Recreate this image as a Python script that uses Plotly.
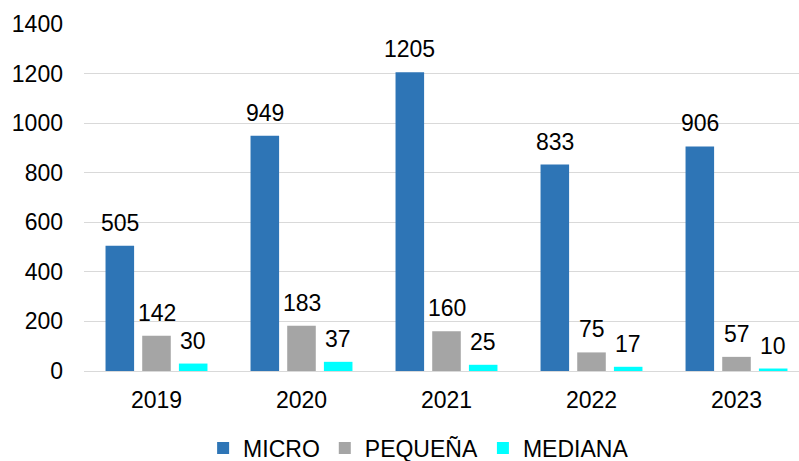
import plotly.graph_objects as go

years = ["2019", "2020", "2021", "2022", "2023"]
micro = [505, 949, 1205, 833, 906]
pequena = [142, 183, 160, 75, 57]
mediana = [30, 37, 25, 17, 10]

series = [
    ("MICRO", micro, "#2E75B6"),
    ("PEQUEÑA", pequena, "#A5A5A5"),
    ("MEDIANA", mediana, "#00FFFF"),
]

font_family = "Liberation Sans, Arial, sans-serif"
slot = 0.253          # distance between bars in a group (category units)
bar_w = 0.197         # bar width (category units)
offsets = [-slot, 0.0, slot]
fsize = 23

fig = go.Figure()
annotations = []
for (name, vals, color), off in zip(series, offsets):
    xs = [i + off for i in range(len(years))]
    fig.add_trace(go.Bar(
        x=xs, y=vals, name=name, width=bar_w,
        marker=dict(color=color, line=dict(width=0)),
    ))
    for x, v in zip(xs, vals):
        annotations.append(dict(
            x=x, y=v, xref="x", yref="y", text=str(v), showarrow=False,
            yanchor="middle", yshift=23,
            font=dict(family=font_family, size=fsize, color="#000000"),
        ))

fig.update_layout(
    width=799, height=461,
    margin=dict(l=84, r=0, t=24, b=90, autoexpand=False),
    paper_bgcolor="white", plot_bgcolor="white",
    barmode="overlay",
    font=dict(family=font_family, size=fsize, color="#000000"),
    showlegend=True,
    legend=dict(
        orientation="h", x=0.468, xanchor="center",
        yref="container", y=(461 - 448) / 461, yanchor="middle",
        font=dict(family=font_family, size=fsize, color="#000000"),
        itemwidth=30, tracegroupgap=0,
    ),
    annotations=annotations,
)
fig.update_xaxes(
    range=[-0.5, 4.431], tickmode="array",
    tickvals=list(range(len(years))), ticktext=years,
    showgrid=False, zeroline=False, showline=False, ticks="",
    ticklabelstandoff=13,
)
fig.update_yaxes(
    range=[0, 1400], dtick=200, showgrid=True, gridcolor="#D9D9D9", gridwidth=1,
    zeroline=True, zerolinecolor="#D9D9D9", zerolinewidth=1,
    showline=False, ticks="", ticklabelstandoff=20,
)

fig.write_html("out.html")
